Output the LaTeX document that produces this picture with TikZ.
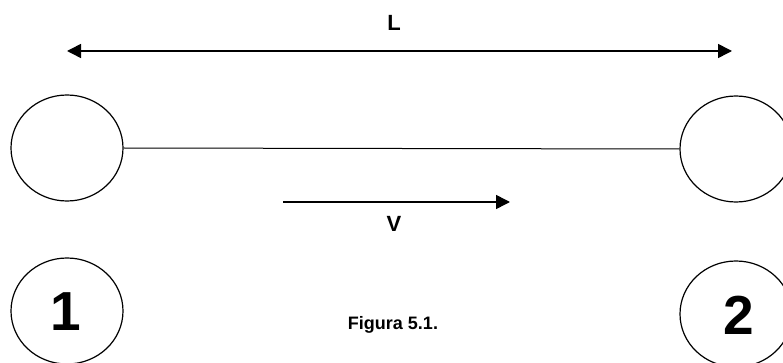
\documentclass[tikz,border=0pt]{standalone}
\usepackage{fontspec}
\setmainfont{Liberation Sans}
\usetikzlibrary{arrows.meta,shapes.geometric}
\begin{document}
\begin{tikzpicture}[x=1pt,y=-1pt,
  ring/.style={draw,line width=1.2pt,ellipse,minimum width=112pt,minimum height=106pt,inner sep=0pt},
  arr/.style={line width=1.5pt,-{Triangle[length=14pt,width=14pt]}},
  darr/.style={line width=1.5pt,{Triangle[length=14pt,width=14pt]}-{Triangle[length=14pt,width=14pt]}},
  lbl/.style={font=\bfseries\fontsize{22}{26}\selectfont,inner sep=0pt},
  num/.style={font=\bfseries\fontsize{55}{60}\selectfont,inner sep=0pt}]
\useasboundingbox (0,0) rectangle (783,363);
\clip (0,0) rectangle (783,363);
% dimension L
\coordinate (la) at (67,51);
\coordinate (lb) at (732,51);
\draw[darr] (la) -- (lb);
\node[lbl] (L) at (394,23) {L};
% pipe with two ends
\node[ring] (c1) at (67,148) {};
\node[ring] (c2) at (736,149) {};
\draw[line width=1pt] (c1.east) -- (c2.west);
% velocity
\coordinate (va) at (283,202);
\coordinate (vb) at (510,202);
\draw[arr] (va) -- (vb);
\node[lbl] (V) at (394,224) {V};
% numbered sections
\node[ring] (n1) at (67,311) {};
\node[num] (t1) at (66,312) {1};
\node[ring] (n2) at (736,314) {};
\node[num] (t2) at (739,315) {2};
\node[font=\bfseries\fontsize{18}{22}\selectfont,inner sep=0pt] (fig) at (393,325) {Figura 5.1.};
\end{tikzpicture}
\end{document}
